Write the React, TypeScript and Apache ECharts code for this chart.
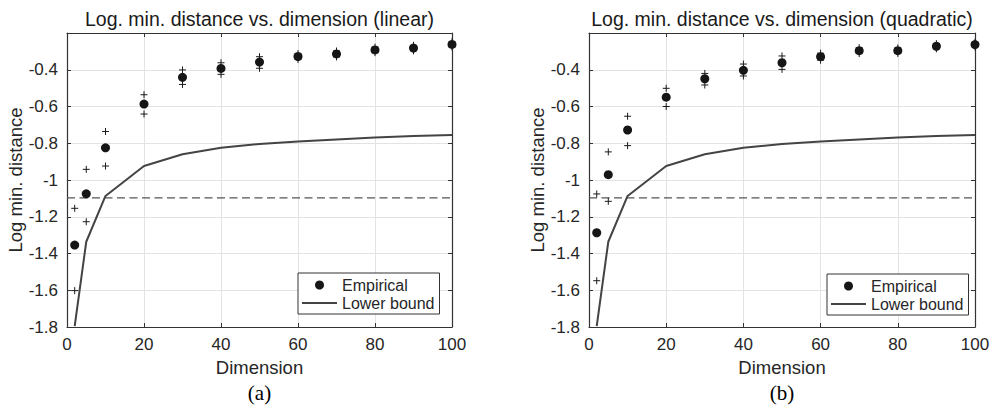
import React, { useEffect, useRef } from "react";
import * as echarts from "echarts";

// Dimensions (x values)
const dims = [2, 5, 10, 20, 30, 40, 50, 60, 70, 80, 90, 100];

// (a) linear
const linearMean = [-1.354, -1.075, -0.825, -0.587, -0.441, -0.393, -0.358, -0.328, -0.314, -0.292, -0.282, -0.262];
const linearUpper = [-1.154, -0.942, -0.736, -0.536, -0.401, -0.362, -0.329, -0.312, -0.298, -0.277, -0.267, -0.248];
const linearLower = [-1.602, -1.227, -0.924, -0.641, -0.48, -0.425, -0.392, -0.344, -0.33, -0.307, -0.297, -0.276];

// (b) quadratic
const quadMean = [-1.287, -0.971, -0.728, -0.549, -0.449, -0.403, -0.362, -0.329, -0.296, -0.296, -0.272, -0.263];
const quadUpper = [-1.076, -0.847, -0.653, -0.501, -0.42, -0.369, -0.325, -0.31, -0.28, -0.281, -0.258, -0.25];
const quadLower = [-1.548, -1.116, -0.813, -0.6, -0.483, -0.434, -0.398, -0.348, -0.312, -0.311, -0.286, -0.276];

// Lower bound (same in both panels)
const lowerBound = [-1.795, -1.336, -1.087, -0.924, -0.86, -0.824, -0.804, -0.79, -0.779, -0.769, -0.761, -0.755];

// Dashed horizontal reference
const thresholdX = [0, 100];
const thresholdY = -1.097;

const titles = [
  "Log. min. distance vs. dimension (linear)",
  "Log. min. distance vs. dimension (quadratic)",
];
const captions = ["(a)", "(b)"];
const xName = "Dimension";
const yName = "Log min. distance";

const FONT = "'Liberation Sans', Arial, Helvetica, sans-serif";
const SERIF = "'Liberation Serif', 'Times New Roman', Times, serif";
const TXT = "#262626";

function pairs(xs: number[], ys: number[]) {
  return xs.map((x, i) => [x, ys[i]]);
}

export default function App() {
  const ref = useRef<HTMLDivElement>(null);

  useEffect(() => {
    const chart = echarts.init(ref.current!, null, { renderer: "svg" });

    const grids = [
      { left: 67, top: 33, width: 385, height: 294 },
      { left: 589, top: 33, width: 386, height: 294 },
    ];
    const panels = [
      { mean: linearMean, upper: linearUpper, lower: linearLower },
      { mean: quadMean, upper: quadUpper, lower: quadLower },
    ];
    const axisLine = { show: true, onZero: false, lineStyle: { color: "#333", width: 1.2 } };
    const axisTick = { show: true, inside: true, length: 4, lineStyle: { color: "#333", width: 1 } };
    const labelStyle = { color: TXT, fontSize: 17, fontFamily: FONT };
    const nameStyle = { color: TXT, fontSize: 18.5, fontFamily: FONT };
    const yFmt = (v: number) => (Math.abs(v + 0.2) < 1e-9 ? "" : String(Number(v.toFixed(1))));

    const xAxes: any[] = [];
    const yAxes: any[] = [];
    const series: any[] = [];

    grids.forEach((_, i) => {
      xAxes.push({
        gridIndex: i, type: "value", min: 0, max: 100, interval: 20, position: "bottom",
        name: xName, nameLocation: "middle", nameGap: 30, nameTextStyle: nameStyle,
        axisLine, axisTick, axisLabel: { ...labelStyle, margin: 9 },
        splitLine: { show: true, lineStyle: { color: "#e3e3e3", width: 1 } },
      });
      xAxes.push({
        gridIndex: i, type: "value", min: 0, max: 100, interval: 20, position: "top",
        axisLine, axisTick, axisLabel: { show: false }, splitLine: { show: false },
      });
      yAxes.push({
        gridIndex: i, type: "value", min: -1.8, max: -0.2, interval: 0.2, position: "left",
        name: yName, nameLocation: "middle", nameGap: 42, nameTextStyle: nameStyle,
        axisLine, axisTick, axisLabel: { ...labelStyle, margin: 9, formatter: yFmt },
        splitLine: { show: true, lineStyle: { color: "#e3e3e3", width: 1 } },
      });
      yAxes.push({
        gridIndex: i, type: "value", min: -1.8, max: -0.2, interval: 0.2, position: "right",
        axisLine, axisTick, axisLabel: { show: false }, splitLine: { show: false },
      });

      const p = panels[i];
      const xa = 2 * i;
      const ya = 2 * i;
      series.push({
        name: "Threshold", type: "line", xAxisIndex: xa, yAxisIndex: ya,
        data: thresholdX.map((x) => [x, thresholdY]), symbol: "none", silent: true,
        lineStyle: { color: "#555", width: 1.2, type: [8, 4.5] }, z: 2,
      });
      series.push({
        name: "Lower bound", type: "line", xAxisIndex: xa, yAxisIndex: ya,
        data: pairs(dims, lowerBound), symbol: "none", showSymbol: false,
        lineStyle: { color: "#444", width: 2 }, itemStyle: { color: "#444" }, z: 3,
      });
      ["Upper", "Lower"].forEach((nm, k) => {
        series.push({
          name: nm, type: "scatter", xAxisIndex: xa, yAxisIndex: ya,
          data: pairs(dims, k === 0 ? p.upper : p.lower),
          symbol: "path://M5,0L5,10M0,5L10,5", symbolSize: 7,
          itemStyle: { color: "none", borderColor: "#1a1a1a", borderWidth: 1, opacity: 1 }, z: 4,
        });
      });
      series.push({
        name: "Empirical", type: "scatter", xAxisIndex: xa, yAxisIndex: ya,
        data: pairs(dims, p.mean), symbol: "circle", symbolSize: 9,
        itemStyle: { color: "#161616", opacity: 1 }, z: 5,
      });
    });

    const legendBase = {
      data: [
        { name: "Empirical" },
        { name: "Lower bound", icon: "path://M0,0L35,0L35,2L0,2Z", itemStyle: { color: "#444" } },
      ],
      orient: "vertical", itemWidth: 35, itemHeight: 9, itemGap: 0,
      padding: [3, 5, 2, 4], borderColor: "#333", borderWidth: 1, backgroundColor: "#fff",
      selectedMode: false,
      textStyle: { color: TXT, fontSize: 16, fontFamily: FONT, lineHeight: 18 },
    };

    const graphic: any[] = [];
    grids.forEach((g, i) => {
      const cx = g.left + g.width / 2;
      graphic.push({
        type: "text", x: cx, y: 18.5,
        style: { text: titles[i], fill: "#1a1a1a", font: `19.5px ${FONT}`, align: "center", verticalAlign: "middle" },
      });
      graphic.push({
        type: "text", x: cx, y: 393,
        style: { text: captions[i], fill: "#000", font: `21px ${SERIF}`, align: "center", verticalAlign: "middle" },
      });
    });

    chart.setOption({
      animation: false,
      backgroundColor: "#fff",
      grid: grids.map((g) => ({ ...g, containLabel: false })),
      xAxis: xAxes,
      yAxis: yAxes,
      legend: [
        { ...legendBase, left: 298, top: 273 },
        { ...legendBase, left: 827, top: 274 },
      ],
      graphic,
      series,
    });

    return () => chart.dispose();
  }, []);

  return (
    <div
      ref={ref}
      style={{ position: "absolute", left: 0, top: 0, width: 994, height: 408 }}
    />
  );
}
